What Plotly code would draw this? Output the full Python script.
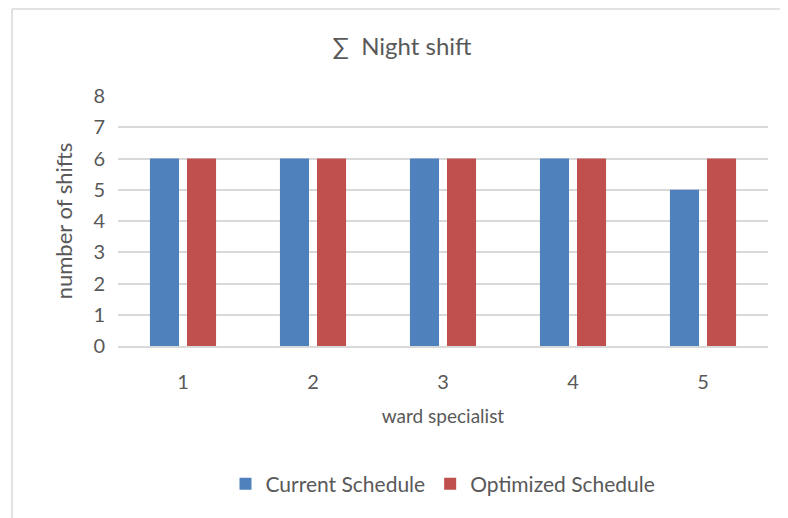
import plotly.graph_objects as go

specialists = ["1", "2", "3", "4", "5"]
current_schedule = [6, 6, 6, 6, 5]
optimized_schedule = [6, 6, 6, 6, 6]

# page body adds an 8px offset, so layout positions are measured from the page minus 8
W, H = 788, 518
L, R, T, B = 110, 28, 88, 180
pw, ph = W - L - R, H - T - B

TXT = "#595959"
FONT = "Lato, 'Open Sans', sans-serif"


def px_x(x):
    return (x - L) / pw


def px_y(y):
    return (H - B - y) / ph


fig = go.Figure()
fig.add_trace(go.Bar(x=specialists, y=current_schedule, name="Current Schedule",
                     marker=dict(color="#4F81BD", line=dict(width=0))))
fig.add_trace(go.Bar(x=specialists, y=optimized_schedule, name="Optimized Schedule",
                     marker=dict(color="#C0504D", line=dict(width=0))))

border = dict(color="#D9D9D9", width=1.5)
fig.update_layout(
    width=W, height=H,
    margin=dict(l=L, r=R, t=T, b=B, autoexpand=False),
    paper_bgcolor="white", plot_bgcolor="white",
    font=dict(family=FONT, size=19, color=TXT),
    barmode="group", bargap=0.43, bargroupgap=0.216,
    title=dict(text="∑  Night shift", x=0.5, xanchor="center", y=1 - 39 / H, yanchor="middle",
               font=dict(size=24, color=TXT)),
    showlegend=True,
    legend=dict(orientation="h", x=0.5, xanchor="center", y=px_y(476), yanchor="middle",
                font=dict(size=21, color=TXT), itemwidth=30, traceorder="normal",
                bgcolor="rgba(0,0,0,0)"),
    xaxis=dict(title=dict(text="ward specialist", font=dict(size=19, color=TXT), standoff=18),
               showgrid=False, showline=True, linecolor="#D9D9D9", linewidth=2,
               ticks="", ticklabelstandoff=17, automargin=False,
               tickfont=dict(size=20, color=TXT)),
    yaxis=dict(title=dict(text="number of shifts", font=dict(size=22, color=TXT), standoff=14),
               range=[0, 8], dtick=1, showgrid=True, gridcolor="#D9D9D9", gridwidth=1.5,
               zeroline=False, showline=False, ticks="", ticklabelstandoff=12, automargin=False,
               tickfont=dict(size=20, color=TXT)),
    shapes=[
        dict(type="line", xref="paper", yref="paper",
             x0=px_x(4), x1=px_x(W + 20), y0=px_y(1), y1=px_y(1), line=border, layer="below"),
        dict(type="line", xref="paper", yref="paper",
             x0=px_x(4), x1=px_x(4), y0=px_y(1), y1=px_y(H + 20), line=border, layer="below"),
    ],
)

fig.write_html("out.html")
